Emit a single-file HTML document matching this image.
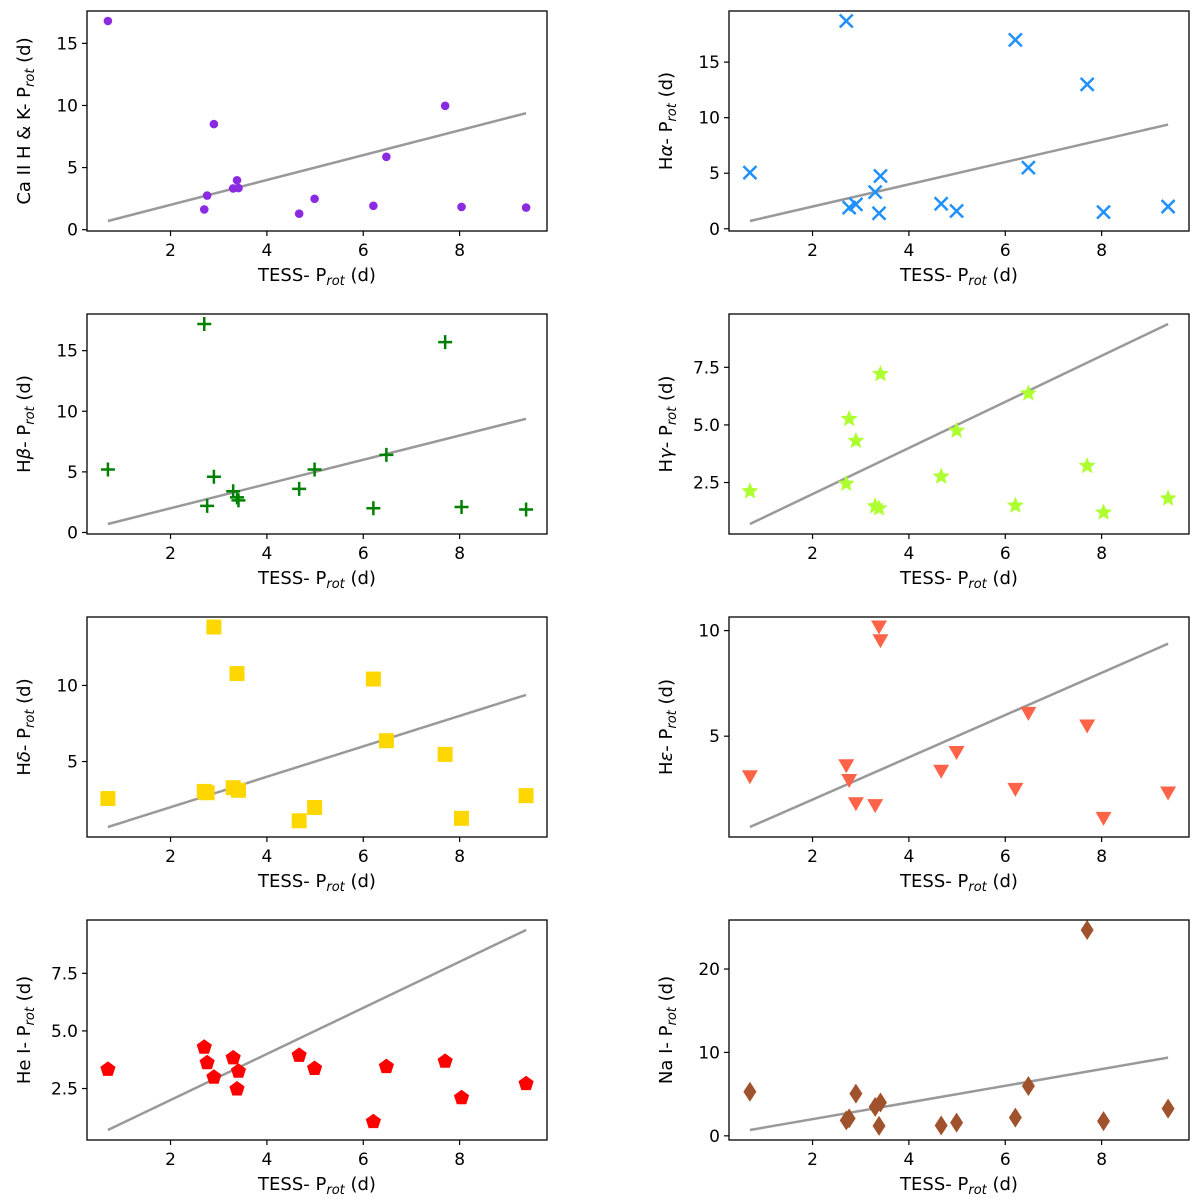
<!DOCTYPE html>
<html><head><meta charset="utf-8"><style>
html,body{margin:0;padding:0;background:#fff;}
svg{display:block;font-family:"DejaVu Sans","Liberation Sans",sans-serif;}
</style></head><body>
<svg id="fig" width="1200" height="1199" viewBox="0 0 1200 1199" xmlns="http://www.w3.org/2000/svg"></svg>
<script>
const xValues = [0.7,2.7,2.76,2.9,3.3,3.38,3.41,4.67,4.99,6.21,6.48,7.7,8.04,9.38];
const caValues = [16.8,1.63,2.75,8.5,3.32,3.98,3.35,1.29,2.49,1.92,5.87,9.97,1.83,1.78];
const haValues = [5.05,18.7,1.9,2.2,3.3,1.4,4.75,2.25,1.6,17.0,5.5,13.0,1.5,2.0];
const hbValues = [5.2,17.2,2.2,4.6,3.4,2.9,2.65,3.6,5.2,2.0,6.4,15.7,2.1,1.9];
const hgValues = [2.12,2.45,5.26,4.31,1.47,1.38,7.21,2.76,4.75,1.5,6.37,3.22,1.2,1.81];
const hdValues = [2.57,3.04,2.95,13.84,3.28,10.78,3.11,1.11,1.98,10.42,6.37,5.47,1.27,2.76];
const heValues = [3.08,3.6,2.9,1.8,1.71,10.17,9.52,3.34,4.23,2.48,6.08,5.48,1.11,2.31];
const heIValues = [3.33,4.29,3.62,2.99,3.83,2.48,3.25,3.94,3.37,1.06,3.45,3.68,2.1,2.71];
const naValues = [5.28,1.85,2.1,5.06,3.48,1.2,4.0,1.24,1.59,2.19,5.97,24.68,1.76,3.26];
const xTicks = [2,4,6,8];
const caTicks = [0,5,10,15];
const haTicks = [0,5,10,15];
const hbTicks = [0,5,10,15];
const hgTicks = [2.5,5.0,7.5];
const hdTicks = [5,10];
const heTicks = [5,10];
const heITicks = [2.5,5.0,7.5];
const naTicks = [0,10,20];
const lineX = [0.7,9.38];

const NS = "http://www.w3.org/2000/svg";
const svg = document.getElementById('fig');
function mk(tag, attrs, parent){
  const e = document.createElementNS(NS, tag);
  for (const k in attrs) e.setAttribute(k, attrs[k]);
  (parent||svg).appendChild(e);
  return e;
}
const panels = [
  {key:'ca', name:'ca-ii-panel', pre:'Ca II H & K', greek:'', vals:caValues, ticks:caTicks, dec:0, marker:'circle', color:'#8a2be2', col:0, row:0},
  {key:'ha', name:'h-alpha-panel', pre:'H', greek:'\u03b1', vals:haValues, ticks:haTicks, dec:0, marker:'x', color:'#1e90ff', col:1, row:0},
  {key:'hb', name:'h-beta-panel', pre:'H', greek:'\u03b2', vals:hbValues, ticks:hbTicks, dec:0, marker:'plus', color:'#008000', col:0, row:1},
  {key:'hg', name:'h-gamma-panel', pre:'H', greek:'\u03b3', vals:hgValues, ticks:hgTicks, dec:1, marker:'star', color:'#adff2f', col:1, row:1},
  {key:'hd', name:'h-delta-panel', pre:'H', greek:'\u03b4', vals:hdValues, ticks:hdTicks, dec:0, marker:'square', color:'#ffd700', col:0, row:2},
  {key:'he', name:'h-epsilon-panel', pre:'H', greek:'\u03b5', vals:heValues, ticks:heTicks, dec:0, marker:'tri', color:'#ff6347', col:1, row:2},
  {key:'hei', name:'he-i-panel', pre:'He I', greek:'', vals:heIValues, ticks:heITicks, dec:1, marker:'pent', color:'#ff0000', col:0, row:3},
  {key:'na', name:'na-i-panel', pre:'Na I', greek:'', vals:naValues, ticks:naTicks, dec:0, marker:'diamond', color:'#a0522d', col:1, row:3}
];
const boxL = [87, 729], boxW = 460, boxTop = [11,314,617,920], boxH = 220;

function drawMarker(g, type, cx, cy, color){
  let e;
  if (type==='circle') e = mk('circle',{cx:cx,cy:cy,r:4.3,fill:color},g);
  else if (type==='x') e = mk('path',{d:`M${cx-6.5},${cy-6.5}L${cx+6.5},${cy+6.5}M${cx-6.5},${cy+6.5}L${cx+6.5},${cy-6.5}`,stroke:color,'stroke-width':2.5,fill:'none'},g);
  else if (type==='plus') e = mk('path',{d:`M${cx-7},${cy}L${cx+7},${cy}M${cx},${cy-7}L${cx},${cy+7}`,stroke:color,'stroke-width':2.5,fill:'none'},g);
  else if (type==='square') e = mk('rect',{x:cx-7.5,y:cy-7.5,width:15,height:15,fill:color},g);
  else if (type==='tri') e = mk('polygon',{points:`${cx-8},${cy-6.5} ${cx+8},${cy-6.5} ${cx},${cy+7.5}`,fill:color},g);
  else if (type==='diamond') e = mk('polygon',{points:`${cx},${cy-10} ${cx+6.5},${cy} ${cx},${cy+10} ${cx-6.5},${cy}`,fill:color},g);
  else {
    const n = type==='star'?10:5, pts=[];
    for (let i=0;i<n;i++){
      const a = -Math.PI/2 + i*2*Math.PI/n;
      const r = type==='star' ? (i%2===0?9:4) : 8;
      pts.push((cx+r*Math.cos(a)).toFixed(2)+','+(cy+r*Math.sin(a)).toFixed(2));
    }
    e = mk('polygon',{points:pts.join(' '),fill:color},g);
  }
  return e;
}

panels.forEach(p=>{
  const L = boxL[p.col], T = boxTop[p.row], R = L+boxW, B = T+boxH;
  const g = mk('g',{});
  
  
  let xmin = Math.min(...xValues, ...lineX), xmax = Math.max(...xValues, ...lineX);
  let xm = (xmax-xmin)*0.05; xmin-=xm; xmax+=xm;
  let ymin = Math.min(...p.vals, ...lineX), ymax = Math.max(...p.vals, ...lineX);
  let ym = (ymax-ymin)*0.05; ymin-=ym; ymax+=ym;
  const sx = v => L + (v-xmin)/(xmax-xmin)*boxW;
  const sy = v => B - (v-ymin)/(ymax-ymin)*boxH;
  const ln = mk('line',{x1:sx(lineX[0]),y1:sy(lineX[0]),x2:sx(lineX[1]),y2:sy(lineX[1]),stroke:'#999999','stroke-width':2.5},g);
  
  
  xValues.forEach((xv,i)=>{
    const m = drawMarker(g, p.marker, sx(xv), sy(p.vals[i]), p.color);
    
    
  });
  const box = mk('rect',{x:L,y:T,width:boxW,height:boxH,fill:'none',stroke:'#000','stroke-width':1.3},g);
  
  
  xTicks.forEach(t=>{
    const x = sx(t);
    mk('line',{x1:x,y1:B,x2:x,y2:B+5,stroke:'#000','stroke-width':1.2},g);
    const tx = mk('text',{x:x,y:B+25,'font-size':17,'text-anchor':'middle',fill:'#000'},g);
    tx.textContent = String(t);
    
    
  });
  p.ticks.forEach(t=>{
    const y = sy(t);
    mk('line',{x1:L-5,y1:y,x2:L,y2:y,stroke:'#000','stroke-width':1.2},g);
    const ty = mk('text',{x:L-9,y:y+6,'font-size':17,'text-anchor':'end',fill:'#000'},g);
    ty.textContent = t.toFixed(p.dec);
    
    
  });
  const xl = mk('text',{x:L+boxW/2,y:B+50,'font-size':18,'text-anchor':'middle',fill:'#000'},g);
  
  
  xl.appendChild(document.createTextNode('TESS- P'));
  const s1 = mk('tspan',{'font-size':13,'font-style':'italic',dy:4},xl); s1.textContent='rot';
  const s2 = mk('tspan',{dy:-4},xl); s2.textContent=' (d)';
  const cy = T+boxH/2, cx = L-57;
  const yl = mk('text',{x:cx,y:cy,'font-size':18,'text-anchor':'middle',fill:'#000',transform:`rotate(-90 ${cx} ${cy})`},g);
  
  
  yl.appendChild(document.createTextNode(p.pre));
  if (p.greek){ const gk = mk('tspan',{'font-style':'italic'},yl); gk.textContent = p.greek; }
  yl.appendChild(document.createTextNode('- P'));
  const s3 = mk('tspan',{'font-size':13,'font-style':'italic',dy:4},yl); s3.textContent='rot';
  const s4 = mk('tspan',{dy:-4},yl); s4.textContent=' (d)';
});
</script>
</body></html>
